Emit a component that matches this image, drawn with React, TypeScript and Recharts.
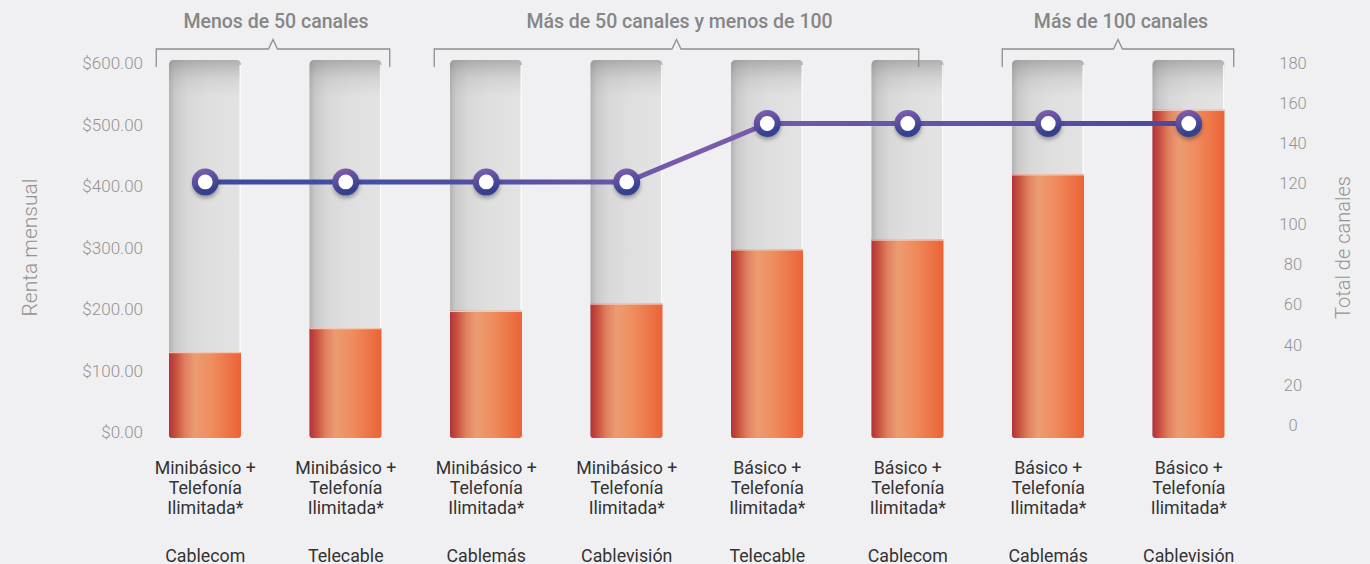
import React from 'react';
import { ComposedChart, Bar, Line, XAxis, YAxis } from 'recharts';

// ---------- data ----------
const providers = ['Cablecom', 'Telecable', 'Cablemás', 'Cablevisión', 'Telecable', 'Cablecom', 'Cablemás', 'Cablevisión'];
const plans = ['Minibásico +', 'Minibásico +', 'Minibásico +', 'Minibásico +', 'Básico +', 'Básico +', 'Básico +', 'Básico +'];
const planExtra = ['Telefonía', 'Ilimitada*'];
const rentaMensual = [130, 169, 197, 209, 297, 313, 419, 524];
const totalCanales = [121, 121, 121, 121, 150, 150, 150, 150];
const rentTicks = [0, 100, 200, 300, 400, 500, 600];
const channelTicks = [0, 20, 40, 60, 80, 100, 120, 140, 160, 180];
const groupLabels = ['Menos de 50 canales', 'Más de 50 canales y menos de 100', 'Más de 100 canales'];
const groupStart = [0, 2, 6];
const groupEnd = [1, 5, 7];

const data = providers.map((p, i) => ({
  id: `${i}`,
  renta: rentaMensual[i],
  canales: totalCanales[i],
}));

// ---------- layout / style ----------
const W = 1370;
const H = 564;
const TOP = 63;
const PLOT_BOTTOM = 432;
const LEFT_W = 135;
const RIGHT_W = 111;
const PLOT_RIGHT = W - RIGHT_W;
const BAND = (PLOT_RIGHT - LEFT_W) / providers.length;
const center = (i: number) => LEFT_W + (i + 0.5) * BAND;
const bracketInset = [[49, 44], [52, 11], [46, 45]];
const FONT = 'Roboto, "Open Sans", sans-serif';

const roundedPath = (x: number, y: number, w: number, h: number, rt: number, rb: number) =>
  `M${x},${y + rt} Q${x},${y} ${x + rt},${y} L${x + w - rt},${y} Q${x + w},${y} ${x + w},${y + rt} ` +
  `L${x + w},${y + h - rb} Q${x + w},${y + h} ${x + w - rb},${y + h} L${x + rb},${y + h} Q${x},${y + h} ${x},${y + h - rb} Z`;

const BgShape = (p: any) => {
  const { x, y, width, height } = p;
  if (width == null) return null;
  const top = y - 3;
  const h = height + 9;
  return (
    <g>
      <path d={roundedPath(x, top, width, h, 5, 3)} fill="url(#greyGrad)" />
      <path d={roundedPath(x, top, width, h, 5, 3)} fill="url(#greyTop)" />
      <rect x={x + width - 1.5} y={top + 5} width={1.5} height={h - 8} fill="#ffffff" opacity={0.85} />
    </g>
  );
};

const OrangeShape = (p: any) => {
  const { x, y, width, height } = p;
  if (width == null || height == null) return null;
  const h = height + 6;
  return (
    <g>
      <path d={roundedPath(x, y, width, h, 0, 3)} fill="url(#orangeGrad)" />
      <rect x={x} y={y} width={width} height={1.2} fill="#f3d2c4" opacity={0.9} />
    </g>
  );
};

const XTick = (p: any) => {
  const { x, index } = p;
  const y0 = PLOT_BOTTOM;
  const common = { x, textAnchor: 'middle' as const, dominantBaseline: 'central' as const, fontSize: 17.8, fill: '#333333', fontFamily: FONT };
  return (
    <g>
      <text {...common} y={y0 + 35}>{plans[index]}</text>
      <text {...common} y={y0 + 55}>{planExtra[0]}</text>
      <text {...common} y={y0 + 75}>{planExtra[1]}</text>
      <text {...common} y={y0 + 123}>{providers[index]}</text>
    </g>
  );
};

const LeftTick = (p: any) => (
  <text x={LEFT_W + 8} y={p.y} textAnchor="end" dominantBaseline="central" fontSize={17} fontWeight={300} fill="#939393" fontFamily={FONT}>
    {`$${Number(p.payload.value).toFixed(2)}`}
  </text>
);

const RightTick = (p: any) => (
  <text x={PLOT_RIGHT + 34} y={p.y} textAnchor="middle" dominantBaseline="central" fontSize={16.5} fontWeight={300} fill="#939393" fontFamily={FONT}>
    {p.payload.value}
  </text>
);

const Dot = (p: any) => {
  const { cx, cy, index } = p;
  if (cx == null) return null;
  return (
    <g key={`dot-${index}`}>
      <circle cx={cx + 0.5} cy={cy + 3} r={13} fill="rgba(0,0,0,0.35)" filter="url(#dotBlur)" />
      <circle cx={cx} cy={cy} r={10.4} fill="#ffffff" stroke="url(#ringGrad)" strokeWidth={6} />
    </g>
  );
};

export default function App() {
  return (
    <div style={{ position: 'absolute', left: 0, top: 0, width: W, height: H, background: '#f0f0f2', fontFamily: FONT, overflow: 'hidden' }}>
      <ComposedChart width={W} height={H} data={data} margin={{ top: TOP, right: 0, bottom: 0, left: 0 }}>
        <defs>
          <linearGradient id="greyGrad" x1="0" y1="0" x2="1" y2="0">
            <stop offset="0" stopColor="#b2b2b2" />
            <stop offset="0.08" stopColor="#c9c9c9" />
            <stop offset="0.25" stopColor="#d8d8d8" />
            <stop offset="0.55" stopColor="#dfdfdf" />
            <stop offset="1" stopColor="#e3e3e3" />
          </linearGradient>
          <linearGradient id="greyTop" x1="0" y1="0" x2="0" y2="1">
            <stop offset="0" stopColor="#7a7a7a" stopOpacity={0.5} />
            <stop offset="0.05" stopColor="#9a9a9a" stopOpacity={0.2} />
            <stop offset="0.1" stopColor="#b0b0b0" stopOpacity={0} />
          </linearGradient>
          <linearGradient id="orangeGrad" x1="0" y1="0" x2="1" y2="0">
            <stop offset="0" stopColor="#b3323a" />
            <stop offset="0.1" stopColor="#c9513f" />
            <stop offset="0.22" stopColor="#df7f5f" />
            <stop offset="0.36" stopColor="#ec9c72" />
            <stop offset="0.6" stopColor="#ef8c5d" />
            <stop offset="1" stopColor="#eb6336" />
          </linearGradient>
          <linearGradient id="lineGrad" x1="0" y1="0" x2="1" y2="0">
            <stop offset="0" stopColor="#394b9d" />
            <stop offset="0.3" stopColor="#5350a3" />
            <stop offset="0.5" stopColor="#7a5cac" />
            <stop offset="0.7" stopColor="#6655a6" />
            <stop offset="1" stopColor="#4a489e" />
          </linearGradient>
          <linearGradient id="ringGrad" x1="0" y1="0" x2="0.3" y2="1">
            <stop offset="0" stopColor="#7c5cae" />
            <stop offset="1" stopColor="#35408f" />
          </linearGradient>
          <filter id="dotBlur" x="-50%" y="-50%" width="200%" height="200%">
            <feGaussianBlur stdDeviation="2.2" />
          </filter>
        </defs>
        <XAxis dataKey="id" height={H - PLOT_BOTTOM} axisLine={false} tickLine={false} tickSize={0} tickMargin={0} interval={0} tick={(p: any) => <XTick {...p} />} />
        <YAxis yAxisId="rent" orientation="left" width={LEFT_W} domain={[0, 600]} ticks={rentTicks} axisLine={false} tickLine={false} tickSize={0} tickMargin={0} tick={(p: any) => <LeftTick {...p} />} />
        <YAxis yAxisId="ch" orientation="right" width={RIGHT_W} domain={[-3, 180]} ticks={channelTicks} axisLine={false} tickLine={false} tickSize={0} tickMargin={0} tick={(p: any) => <RightTick {...p} />} />
        <Bar yAxisId="rent" dataKey="renta" barSize={72} background={(p: any) => <BgShape key={`bg-${p.index}`} {...p} />} shape={(p: any) => <OrangeShape {...p} />} isAnimationActive={false} />
        <Line yAxisId="ch" dataKey="canales" type="linear" stroke="url(#lineGrad)" strokeWidth={5} dot={(p: any) => <Dot key={`d-${p.index}`} {...p} />} activeDot={false} isAnimationActive={false} />
      </ComposedChart>
      <svg width={W} height={H} style={{ position: 'absolute', left: 0, top: 0, pointerEvents: 'none' }}>
        {groupLabels.map((label, g) => {
          const l = center(groupStart[g]) - bracketInset[g][0];
          const r = center(groupEnd[g]) + bracketInset[g][1];
          const m = (l + r) / 2;
          return (
            <g key={label}>
              <path d={`M${l},67 L${l},49 L${m - 4.5},49 L${m},39.5 L${m + 4.5},49 L${r},49 L${r},67`} fill="none" stroke="#8e8e8e" strokeWidth={1.3} />
              <text x={m + 3} y={21} textAnchor="middle" dominantBaseline="central" fontSize={19.5} fontWeight={500} fill="#868686" fontFamily={FONT}>{label}</text>
            </g>
          );
        })}
        <text transform={`translate(30, ${(TOP + PLOT_BOTTOM) / 2}) rotate(-90)`} textAnchor="middle" dominantBaseline="central" fontSize={21} fontWeight={300} fill="#939393" fontFamily={FONT}>Renta mensual</text>
        <text transform={`translate(1343, ${(TOP + PLOT_BOTTOM) / 2}) rotate(-90)`} textAnchor="middle" dominantBaseline="central" fontSize={20} fontWeight={300} fill="#939393" fontFamily={FONT}>Total de canales</text>
      </svg>
    </div>
  );
}
